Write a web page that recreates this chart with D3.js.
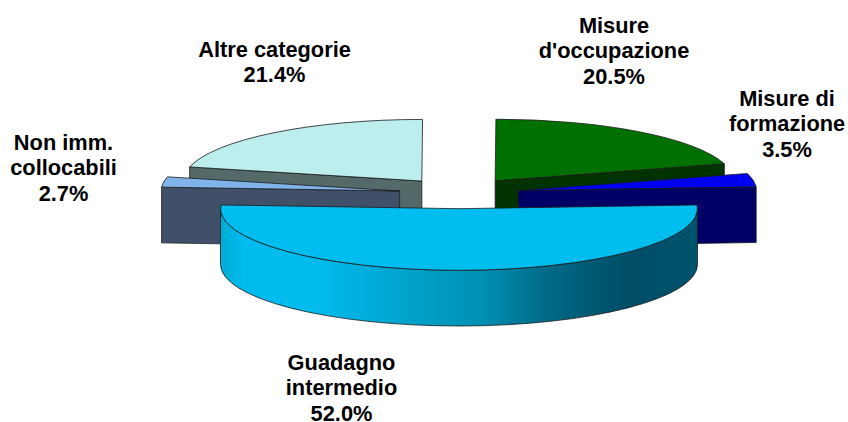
<!DOCTYPE html>
<html>
<head>
<meta charset="utf-8">
<script src="https://cdn.jsdelivr.net/npm/d3@7"></script>
<style>
  html, body { margin: 0; background: #fff; }
  text { font-family: "Liberation Sans", Arial, sans-serif; font-weight: bold; font-size: 21.8px; fill: #000; text-anchor: middle; }
</style>
</head>
<body>
<div class="canvas"></div>
<script>
// chart values, clockwise from the big slice
const categories = ["Guadagno intermedio", "Non imm. collocabili", "Altre categorie", "Misure d'occupazione", "Misure di formazione"];
const shares = [52.0, 2.7, 21.4, 20.5, 3.5];
const labelLines = [["Guadagno", "intermedio"], ["Non imm.", "collocabili"], ["Altre categorie"], ["Misure", "d'occupazione"], ["Misure di", "formazione"]];
const topColors = ["#00bdf0", "#80b3ea", "#bbeeec", "#007000", "#0000f0"];
const sideColors = ["#00bdf0", "#3f5068", "#546a68", "#003300", "#000066"];

const svgWidth = 848;
const svgHeight = 422;

// the tilted pie
const cx = 459, cy = 193.2;
const rx = 238.5, ry = 61.6;
const depth = 55.7;
const explode = 60;
const firstAngle = 86.5 * Math.PI / 180;

// where the label blocks sit (centre x, first baseline)
const labelSpots = [[341.5, 369.5], [63.5, 149.5], [274.5, 56.5], [614, 32.5], [787, 105.5]];
const lineGap = 25.7;

const svg = d3.select('.canvas')
  .append('svg')
    .attr('width', svgWidth)
    .attr('height', svgHeight)
    .style('display', 'block');

const pie = d3.pie().sort(null).startAngle(firstAngle).endAngle(firstAngle + 2 * Math.PI);

const slices = pie(shares).map((d, i) => {
  const mid = (d.startAngle + d.endAngle) / 2;
  return {
    ...d, i, mid,
    ox: cx + explode * Math.sin(mid),
    oy: cy - explode * (ry / rx) * Math.cos(mid)
  };
});

const rimPoint = (s, a, down = 0) => [s.ox + rx * Math.sin(a), s.oy - ry * Math.cos(a) + down];

// top face of a slice
function topPath(s) {
  const a = rimPoint(s, s.startAngle), b = rimPoint(s, s.endAngle);
  const large = s.endAngle - s.startAngle > Math.PI ? 1 : 0;
  return `M${s.ox},${s.oy}L${a}A${rx},${ry} 0 ${large} 1 ${b}Z`;
}

// visible wall along one straight edge of a slice
function wallPath(s, angle) {
  const a = rimPoint(s, angle);
  return `M${s.ox},${s.oy}L${a}L${a[0]},${a[1] + depth}L${s.ox},${s.oy + depth}Z`;
}

// curved front wall, only the part of the rim that faces us
function rimPath(s) {
  const from = Math.max(s.startAngle, Math.PI / 2);
  const to = Math.min(s.endAngle, 3 * Math.PI / 2);
  const a = rimPoint(s, from), b = rimPoint(s, to);
  const a2 = rimPoint(s, from, depth), b2 = rimPoint(s, to, depth);
  return `M${a}L${a2}A${rx},${ry} 0 0 1 ${b2}L${b}A${rx},${ry} 0 0 0 ${a}Z`;
}

// rim shading of the big slice, light on the left side and dark on the right
const rimStops = [[0, "#00acd6"], [0.05, "#00bbee"], [0.2, "#00bbee"], [0.38, "#00a4ce"], [0.55, "#0090b2"], [0.68, "#006b88"], [0.85, "#004d66"], [1, "#00536c"]];
const grad = svg.append('defs').append('linearGradient')
  .attr('id', 'rimShade')
  .attr('gradientUnits', 'userSpaceOnUse')
  .attr('x1', cx - rx).attr('x2', cx + rx)
  .attr('y1', 0).attr('y2', 0);
grad.selectAll('stop').data(rimStops).join('stop')
  .attr('offset', d => d[0])
  .attr('stop-color', d => d[1]);

// back slices first
const ordered = slices.slice().sort((a, b) => Math.cos(b.mid) - Math.cos(a.mid));

const groups = svg.selectAll('g.slice').data(ordered).join('g')
  .attr('class', 'slice')
  .attr('stroke', '#1a1a1a')
  .attr('stroke-width', 0.8)
  .attr('stroke-linejoin', 'round');

groups.each(function(s) {
  const g = d3.select(this);
  if (s.endAngle - s.startAngle > Math.PI) {
    g.append('path').attr('d', rimPath(s)).attr('fill', 'url(#rimShade)');
  } else {
    // wall on the edge that looks towards the viewer
    const edge = s.mid < Math.PI || s.mid > 2 * Math.PI ? s.endAngle : s.startAngle;
    g.append('path').attr('d', wallPath(s, edge)).attr('fill', sideColors[s.i]);
  }
  g.append('path').attr('d', topPath(s)).attr('fill', topColors[s.i]);
});

const labels = svg.selectAll('text').data(slices).join('text')
  .attr('transform', s => `translate(${labelSpots[s.i][0]},${labelSpots[s.i][1]})`);

labels.selectAll('tspan')
  .data(s => labelLines[s.i].concat(d3.format(".1f")(s.data) + "%"))
  .join('tspan')
    .attr('x', 0)
    .attr('y', (d, i) => i * lineGap)
    .text(d => d);
</script>
</body>
</html>
